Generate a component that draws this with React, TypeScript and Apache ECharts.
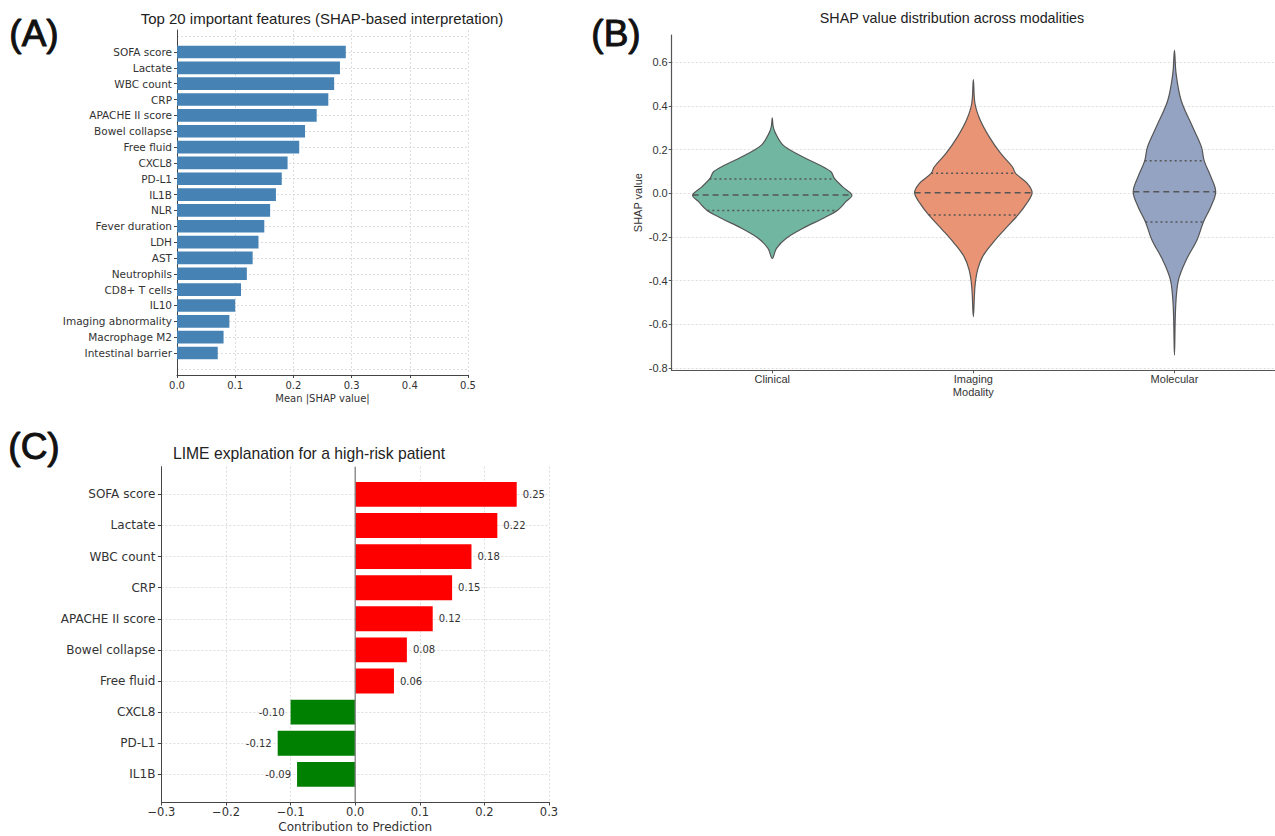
import React, { useEffect, useRef } from 'react';
import * as echarts from 'echarts';

// ---------- Panel A data ----------
const shapFeatures = [
  'SOFA score', 'Lactate', 'WBC count', 'CRP', 'APACHE II score', 'Bowel collapse',
  'Free fluid', 'CXCL8', 'PD-L1', 'IL1B', 'NLR', 'Fever duration', 'LDH', 'AST',
  'Neutrophils', 'CD8+ T cells', 'IL10', 'Imaging abnormality', 'Macrophage M2', 'Intestinal barrier',
];
const shapValues = [0.29, 0.28, 0.27, 0.26, 0.24, 0.22, 0.21, 0.19, 0.18, 0.17, 0.16, 0.15, 0.14, 0.13, 0.12, 0.11, 0.10, 0.09, 0.08, 0.07];

// ---------- Panel B data ----------
const modalities = ['Clinical', 'Imaging', 'Molecular'];
// violin outline: [SHAP value, half width in category units]
const clinicalProfile = [
  [0.346, 0], [0.31, 0.004], [0.282, 0.013], [0.221, 0.054], [0.175, 0.136], [0.130, 0.235], [0.099, 0.292],
  [0.069, 0.309], [0.030, 0.350], [-0.008, 0.396], [-0.038, 0.366], [-0.077, 0.325], [-0.115, 0.251],
  [-0.160, 0.153], [-0.206, 0.070], [-0.252, 0.021], [-0.298, 0],
];
const imagingProfile = [
  [0.522, 0], [0.412, 0.008], [0.336, 0.034], [0.259, 0.079], [0.183, 0.136], [0.122, 0.194], [0.092, 0.210],
  [0.046, 0.268], [0.003, 0.292], [-0.046, 0.265], [-0.099, 0.222], [-0.168, 0.153], [-0.229, 0.095],
  [-0.290, 0.046], [-0.351, 0.021], [-0.428, 0.008], [-0.565, 0],
];
const molecularProfile = [
  [0.656, 0], [0.550, 0.008], [0.427, 0.033], [0.305, 0.090], [0.213, 0.134], [0.149, 0.148], [0.076, 0.181],
  [0.008, 0.205], [-0.061, 0.181], [-0.131, 0.144], [-0.214, 0.112], [-0.306, 0.058], [-0.397, 0.020],
  [-0.519, 0.006], [-0.741, 0],
];
// [Q1, median, Q3]
const clinicalQuartiles = [-0.078, -0.008, 0.066];
const imagingQuartiles = [-0.099, 0.003, 0.092];
const molecularQuartiles = [-0.131, 0.007, 0.149];
const violinColors = ['#71b6a0', '#e99575', '#95a3c3'];

// ---------- Panel C data ----------
const limeFeatures = ['SOFA score', 'Lactate', 'WBC count', 'CRP', 'APACHE II score', 'Bowel collapse', 'Free fluid', 'CXCL8', 'PD-L1', 'IL1B'];
const limeValues = [0.25, 0.22, 0.18, 0.15, 0.12, 0.08, 0.06, -0.10, -0.12, -0.09];

const profiles = [clinicalProfile, imagingProfile, molecularProfile];
const quartiles = [clinicalQuartiles, imagingQuartiles, molecularQuartiles];

const DV = '"DejaVu Sans", sans-serif';
const LS = '"Liberation Sans", Arial, sans-serif';
const gridDot = { type: [2, 2], color: '#d4d4d4', width: 0.8 };
const spine = { color: '#444', width: 1 };

function widthAt(profile: number[][], v: number) {
  for (let i = 0; i < profile.length - 1; i++) {
    const [v0, w0] = profile[i];
    const [v1, w1] = profile[i + 1];
    if ((v <= v0 && v >= v1)) {
      const t = (v0 - v) / (v0 - v1);
      return w0 + (w1 - w0) * t;
    }
  }
  return 0;
}

// panel A layout
const aLeft = 177, aTop = 30, aW = 291, aH = 345;
const aMin = -1.39, aMax = shapFeatures.length - 1 + 1.39;
const aRow = aH / (aMax - aMin);
// panel C layout
const cLeft = 161.4, cTop = 466.7, cW = 387.6, cH = 335.3;
const cMin = -0.89, cMax = limeFeatures.length - 1 + 0.89;
const cRow = cH / (cMax - cMin);

function txt(text: string, x: number, y: number, font: string, fill = '#222', strokeW = 0) {
  return {
    type: 'text',
    style: {
      text, x, y, font, fill, align: 'center', verticalAlign: 'middle', textAlign: 'center', textVerticalAlign: 'middle',
      stroke: strokeW ? fill : undefined, lineWidth: strokeW,
    },
  };
}

export default function App() {
  const ref = useRef<HTMLDivElement>(null);
  useEffect(() => {
    if (!ref.current) return;
    const chart = echarts.init(ref.current, undefined, { renderer: 'svg' });
    const option: any = {
      animation: false,
      backgroundColor: '#ffffff',
      graphic: [
        txt('(A)', 34, 33, '37px ' + LS, '#111', 1),
        txt('(B)', 616, 33, '37px ' + LS, '#111', 1),
        txt('(C)', 34, 446, '37px ' + LS, '#111', 1),
        txt('Top 20 important features (SHAP-based interpretation)', 322, 18, '15px ' + LS),
        txt('SHAP value distribution across modalities', 952, 18, '14.3px ' + LS),
        txt('LIME explanation for a high-risk patient', 309, 453, '15.7px ' + LS),
      ],
      grid: [
        { left: aLeft, top: aTop, width: aW, height: aH },
        { left: aLeft, top: aTop + (-0.5 - aMin) * aRow, width: aW, height: shapFeatures.length * aRow },
        { left: 671.7, top: 35, right: -5.7, bottom: 836 - 370.3 },
        { left: cLeft, top: cTop, width: cW, height: cH },
        { left: cLeft, top: cTop + (-0.5 - cMin) * cRow, width: cW, height: limeFeatures.length * cRow },
      ],
      xAxis: [
        {
          gridIndex: 0, type: 'value', min: 0, max: 0.5, interval: 0.1,
          axisLine: { show: true, onZero: false, lineStyle: spine },
          axisTick: { show: true, length: 3, lineStyle: spine },
          axisLabel: { fontFamily: DV, fontSize: 10, color: '#333', margin: 5, formatter: (v: number) => v.toFixed(1) },
          splitLine: { show: true, lineStyle: gridDot },
          name: 'Mean |SHAP value|', nameLocation: 'middle', nameGap: 18,
          nameTextStyle: { fontFamily: DV, fontSize: 10, color: '#333' },
        },
        { gridIndex: 1, type: 'value', min: 0, max: 0.5, show: false },
        {
          gridIndex: 2, type: 'category', data: modalities, boundaryGap: true,
          axisLine: { show: true, onZero: false, lineStyle: { color: '#555', width: 1.2 } },
          axisTick: { show: true, alignWithLabel: true, length: 3, lineStyle: { color: '#555' } },
          axisLabel: { fontFamily: LS, fontSize: 11, color: '#333', margin: 3 },
          splitLine: { show: false },
          name: 'Modality', nameLocation: 'middle', nameGap: 16,
          nameTextStyle: { fontFamily: LS, fontSize: 11, color: '#333' },
        },
        {
          gridIndex: 3, type: 'value', min: -0.3, max: 0.3, interval: 0.1,
          axisLine: { show: true, onZero: false, lineStyle: spine },
          axisTick: { show: true, length: 3.5, lineStyle: spine },
          axisLabel: {
            fontFamily: DV, fontSize: 11.5, color: '#333', margin: 4,
            formatter: (v: number) => (v < -1e-9 ? '\u2212' : '') + Math.abs(v).toFixed(1),
          },
          splitLine: { show: true, lineStyle: gridDot },
          name: 'Contribution to Prediction', nameLocation: 'middle', nameGap: 19,
          nameTextStyle: { fontFamily: DV, fontSize: 12, color: '#333' },
        },
        { gridIndex: 4, type: 'value', min: -0.3, max: 0.3, show: false },
      ],
      yAxis: [
        {
          gridIndex: 0, type: 'value', inverse: true, min: aMin, max: aMax,
          splitNumber: 21, minInterval: 1, maxInterval: 1,
          axisLine: { show: true, onZero: false, lineStyle: spine },
          axisTick: { show: false }, axisLabel: { show: false },
          splitLine: { show: true, lineStyle: gridDot, showMinLine: false, showMaxLine: false },
        },
        {
          gridIndex: 1, type: 'category', data: shapFeatures, inverse: true,
          axisLine: { show: false, onZero: false },
          axisTick: { show: true, alignWithLabel: true, length: 3, lineStyle: spine },
          axisLabel: { fontFamily: DV, fontSize: 10.5, color: '#333', margin: 5 },
          splitLine: { show: false },
        },
        {
          gridIndex: 2, type: 'value', min: -0.811, max: 0.726,
          splitNumber: 8, minInterval: 0.2, maxInterval: 0.2,
          axisLine: { show: true, onZero: false, lineStyle: { color: '#555', width: 1.2 } },
          axisTick: { show: true, length: 3, lineStyle: { color: '#555' } },
          axisLabel: {
            fontFamily: LS, fontSize: 11, color: '#333', margin: 4,
            showMinLabel: false, showMaxLabel: false,
            formatter: (v: number) => v.toFixed(1),
          },
          splitLine: { show: true, lineStyle: gridDot, showMinLine: false, showMaxLine: false },
          name: 'SHAP value', nameLocation: 'middle', nameGap: 28, nameRotate: 90,
          nameTextStyle: { fontFamily: LS, fontSize: 11, color: '#333' },
        },
        {
          gridIndex: 3, type: 'value', inverse: true, min: cMin, max: cMax,
          splitNumber: 11, minInterval: 1, maxInterval: 1,
          axisLine: { show: true, onZero: false, lineStyle: spine },
          axisTick: { show: false }, axisLabel: { show: false },
          splitLine: { show: true, lineStyle: gridDot, showMinLine: false, showMaxLine: false },
        },
        {
          gridIndex: 4, type: 'category', data: limeFeatures, inverse: true,
          axisLine: { show: false, onZero: false },
          axisTick: { show: true, alignWithLabel: true, length: 3.5, lineStyle: spine },
          axisLabel: { fontFamily: DV, fontSize: 12, color: '#333', margin: 6 },
          splitLine: { show: false },
        },
      ],
      series: [
        {
          type: 'bar', xAxisIndex: 1, yAxisIndex: 1, data: shapValues,
          barCategoryGap: '20%', itemStyle: { color: '#4682b4' },
        },
        {
          type: 'custom', xAxisIndex: 2, yAxisIndex: 2,
          data: modalities.map((_, i) => [i, 0]),
          encode: { x: 0, y: 1 },
          renderItem: (params: any, api: any) => {
            const i = params.dataIndex;
            const prof = profiles[i];
            const band = api.size([1, 0])[0];
            const cx = api.coord([i, 0])[0];
            const right = prof.map(([v, w]) => [cx + w * band, api.coord([i, v])[1]]);
            const left = prof.slice(1, -1).map(([v, w]) => [cx - w * band, api.coord([i, v])[1]]).reverse();
            const children: any[] = [
              {
                type: 'polygon',
                shape: { points: right.concat(left), smooth: 0.35 },
                style: { fill: violinColors[i], stroke: '#555', lineWidth: 1.2 },
              },
            ];
            quartiles[i].forEach((q, k) => {
              const hw = widthAt(prof, q) * band;
              const y = api.coord([i, q])[1];
              children.push({
                type: 'line',
                shape: { x1: cx - hw, y1: y, x2: cx + hw, y2: y },
                style: { stroke: '#555', lineWidth: 1.5, lineDash: k === 1 ? [6, 4] : [2, 3] },
              });
            });
            return { type: 'group', children };
          },
        },
        {
          type: 'bar', xAxisIndex: 4, yAxisIndex: 4, barCategoryGap: '20%',
          data: limeValues.map((v) => ({
            value: v,
            itemStyle: { color: v >= 0 ? '#ff0000' : '#008000' },
            label: { position: v >= 0 ? 'right' : 'left' },
          })),
          label: {
            show: true, distance: 6, fontFamily: DV, fontSize: 10, color: '#333',
            formatter: (p: any) => Number(p.value).toFixed(2),
          },
        },
        {
          type: 'line', xAxisIndex: 3, yAxisIndex: 3, symbol: 'none', silent: true,
          data: [[0, cMin], [0, cMax]],
          lineStyle: { color: '#808080', width: 1.3 },
          z: 5,
        },
      ],
    };
    chart.setOption(option);
    return () => chart.dispose();
  }, []);
  return <div ref={ref} style={{ position: 'absolute', left: 0, top: 0, width: 1275, height: 836 }} />;
}
